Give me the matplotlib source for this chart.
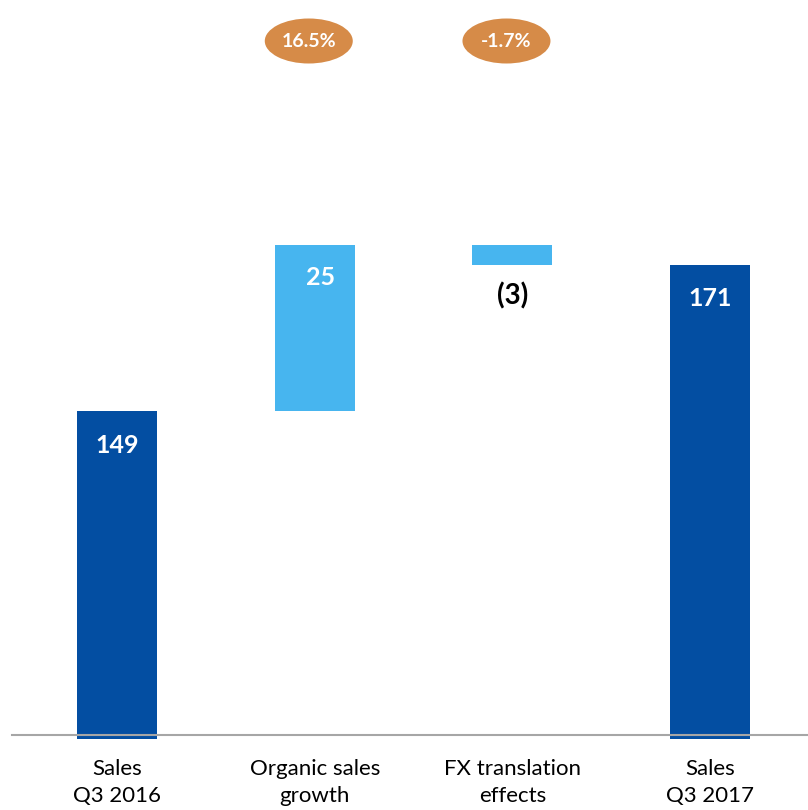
import matplotlib
matplotlib.use("Agg")
import matplotlib.pyplot as plt
from matplotlib.patches import Ellipse

categories = ["Sales\nQ3 2016", "Organic sales\ngrowth", "FX translation\neffects", "Sales\nQ3 2017"]
values = [149, 25, -3, 171]
kinds = ["total", "delta", "delta", "total"]
value_labels = ["149", "25", "(3)", "171"]
pct_labels = [None, "16.5%", "-1.7%", None]

DARK = "#034EA2"
LIGHT = "#47B5EF"
ORANGE = "#D68B48"
FONT = ["Lato", "DejaVu Sans"]
plt.rcParams["font.family"] = FONT

fig = plt.figure(figsize=(8.08, 8.10), dpi=100)
ax = fig.add_axes([12/808, 75/810, 1 - 12/808, 735/810])
x_left = (12 - 117) / 197.7
x_right = (808 - 117) / 197.7
ax.set_xlim(x_left, x_right)
y0 = 100.3
scale = 6.65
ax.set_ylim(y0, y0 + 735 / scale)

width = 0.405
running = 0
for i, (v, k) in enumerate(zip(values, kinds)):
    if k == "total":
        bottom, height, color = y0 - 0.6, v - y0 + 0.6, DARK
        running = v
        top = v
    else:
        if v >= 0:
            bottom, height = running, v
        else:
            bottom, height = running + v, -v
        color = LIGHT
        running += v
        top = bottom + height
    ax.bar(i, height, bottom=bottom, width=width, color=color, zorder=2, clip_on=False)
    lab = value_labels[i]
    if k == "total":
        ax.text(i, top - 34 / scale, lab, ha="center", va="center", color="white",
                fontsize=18, fontweight="bold")
    elif v >= 0:
        ax.text(i + 0.03, top - 33 / scale, lab, ha="center", va="center", color="white",
                fontsize=18, fontweight="bold")
    else:
        ax.text(i, bottom - 31 / scale, lab, ha="center", va="center", color="black",
                fontsize=20, fontweight="bold")

for i, p in enumerate(pct_labels):
    if p is None:
        continue
    xc = i - 0.03
    yc = y0 + (735 - 41) / scale
    e = Ellipse((xc, yc), 88 / 197.7, 45 / scale, facecolor=ORANGE, edgecolor="none",
                zorder=3, clip_on=False)
    ax.add_patch(e)
    ax.text(xc, yc, p, ha="center", va="center", color="white", fontsize=14,
            fontweight="bold", zorder=4)

for s in ["top", "right", "left"]:
    ax.spines[s].set_visible(False)
ax.spines["bottom"].set_color("#A6A6A6")
ax.spines["bottom"].set_linewidth(1.5)
ax.spines["bottom"].set_zorder(3)
ax.set_yticks([])
ax.set_xticks(range(len(categories)))
ax.set_xticklabels(categories, fontsize=16, linespacing=1.45)
ax.tick_params(axis="x", length=0, pad=17)

fig.savefig("out.png", dpi=100)
